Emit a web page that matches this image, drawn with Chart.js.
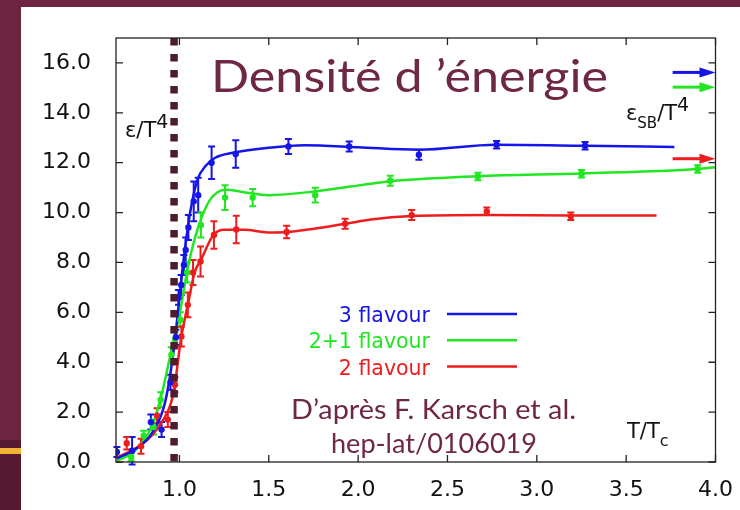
<!DOCTYPE html>
<html>
<head>
<meta charset="utf-8">
<script src="https://cdn.jsdelivr.net/npm/chart.js@4.4.1/dist/chart.umd.min.js"></script>
<style>
  html, body { margin: 0; padding: 0; }
  body { width: 740px; height: 510px; overflow: hidden; background: #6d2441; position: relative; }
  .low { position: absolute; left: 0; top: 440px; width: 21px; height: 70px; background: #55192f; }
  .gold { position: absolute; left: 0; top: 448px; width: 21px; height: 6px; background: #f2b233; }
  .panel { position: absolute; left: 21px; top: 7px; right: 0; bottom: 0; background: #fff; }
  canvas { position: absolute; left: 0; top: 0; }
</style>
</head>
<body>
<div class="low"></div><div class="gold"></div><div class="panel"></div>
<canvas id="energy" width="740" height="510"></canvas>
<script>
const xTicks = [1.0, 1.5, 2.0, 2.5, 3.0, 3.5, 4.0];
const yTicks = [0, 2, 4, 6, 8, 10, 12, 14, 16];
const labels = ["3 flavour", "2+1 flavour", "2 flavour"];
const colors = ["#1515e8", "#22e622", "#ee1d1d"];

// lattice data: T/Tc, eps/T^4, error
const x3 = [0.65, 0.735, 0.84, 0.90, 0.95, 0.98, 0.995, 1.01, 1.025, 1.035, 1.05, 1.08, 1.105, 1.18, 1.315, 1.61, 1.95, 2.34, 2.775, 3.27];
const y3 = [0.4, 0.45, 1.6, 1.3, 3.2, 5.0, 6.6, 7.1, 7.9, 8.5, 9.4, 10.45, 10.7, 12.0, 12.35, 12.65, 12.65, 12.32, 12.72, 12.68];
const e3 = [0.2, 0.55, 0.3, 0.3, 0.3, 0.3, 0.3, 0.4, 0.4, 0.5, 0.5, 0.8, 0.7, 0.65, 0.55, 0.3, 0.2, 0.2, 0.15, 0.15];

const x21 = [0.73, 0.80, 0.855, 0.895, 0.955, 0.975, 1.005, 1.043, 1.12, 1.255, 1.41, 1.76, 2.18, 2.67, 3.25, 3.9];
const y21 = [0.2, 1.05, 1.4, 2.5, 4.3, 4.9, 5.7, 7.6, 9.5, 10.6, 10.6, 10.7, 11.28, 11.45, 11.56, 11.75];
const e21 = [0.15, 0.2, 0.3, 0.3, 0.3, 0.3, 0.3, 0.4, 0.5, 0.5, 0.35, 0.3, 0.2, 0.15, 0.15, 0.15];

const x2 = [0.705, 0.785, 0.875, 0.935, 0.975, 1.011, 1.047, 1.076, 1.118, 1.193, 1.318, 1.60, 1.927, 2.30, 2.72, 3.19];
const y2 = [0.75, 0.63, 1.86, 1.7, 3.1, 5.03, 6.3, 7.6, 8.04, 9.1, 9.32, 9.22, 9.55, 9.9, 10.05, 9.85];
const e2 = [0.25, 0.3, 0.3, 0.3, 0.3, 0.4, 0.5, 0.5, 0.6, 0.55, 0.55, 0.25, 0.2, 0.2, 0.15, 0.15];

// fitted curves
const cx3 = [0.65, 0.75, 0.85, 0.92, 0.97, 1.0, 1.03, 1.06, 1.10, 1.15, 1.20, 1.30, 1.50, 1.70, 2.00, 2.34, 2.77, 3.27, 3.77];
const cy3 = [0.15, 0.5, 1.2, 2.4, 4.6, 6.6, 8.5, 10.0, 11.3, 11.9, 12.2, 12.4, 12.6, 12.7, 12.62, 12.52, 12.72, 12.68, 12.63];
const cx21 = [0.65, 0.75, 0.85, 0.90, 0.95, 1.0, 1.05, 1.10, 1.17, 1.26, 1.36, 1.50, 1.76, 2.07, 2.18, 2.67, 3.25, 3.9, 4.0];
const cy21 = [0.05, 0.45, 1.5, 2.7, 4.3, 5.9, 7.9, 9.3, 10.5, 10.92, 10.82, 10.7, 10.85, 11.16, 11.26, 11.46, 11.57, 11.75, 11.82];
const cx2 = [0.646, 0.70, 0.785, 0.85, 0.91, 0.95, 0.97, 1.01, 1.05, 1.085, 1.12, 1.19, 1.25, 1.36, 1.51, 1.60, 1.93, 2.07, 2.30, 2.72, 3.19, 3.67];
const cy2 = [0.17, 0.35, 0.69, 1.1, 1.7, 2.3, 2.9, 5.0, 6.4, 7.6, 8.1, 9.1, 9.31, 9.31, 9.2, 9.22, 9.55, 9.72, 9.86, 9.9, 9.88, 9.88];

// Stefan-Boltzmann limits (3, 2+1, 2 flavour)
const sbLimits = [15.62, 15.03, 12.16];
const sbFrom = 3.76;
const tc = 0.97;

const pts = (xs, ys) => xs.map((x, i) => ({ x: x, y: ys[i] }));
const series = [[x3, y3, e3], [x21, y21, e21], [x2, y2, e2]];
const curves = [[cx3, cy3], [cx21, cy21], [cx2, cy2]];
const FONT = "'DejaVu Sans', sans-serif";

function rich(ctx, parts, x, y) {
  parts.forEach((p) => {
    ctx.font = p.size + "px " + FONT;
    ctx.fillText(p.t, x, y + (p.dy || 0));
    x += ctx.measureText(p.t).width;
  });
}

function fitText(ctx, text, x, y, width, font) {
  ctx.font = font;
  const w = ctx.measureText(text).width;
  ctx.save();
  ctx.translate(x, y);
  ctx.scale(width / w, 1);
  ctx.fillText(text, 0, 0);
  ctx.restore();
}

const errorBars = {
  id: "errorBars",
  beforeDatasetsDraw(chart) {
    const { ctx, scales: { x, y } } = chart;
    ctx.save();
    ctx.lineWidth = 2;
    series.forEach((s, k) => {
      ctx.strokeStyle = colors[k];
      s[0].forEach((v, i) => {
        const px = x.getPixelForValue(v);
        const lo = y.getPixelForValue(s[1][i] - s[2][i]);
        const hi = y.getPixelForValue(s[1][i] + s[2][i]);
        ctx.beginPath();
        ctx.moveTo(px, lo); ctx.lineTo(px, hi);
        ctx.moveTo(px - 3.5, lo); ctx.lineTo(px + 3.5, lo);
        ctx.moveTo(px - 3.5, hi); ctx.lineTo(px + 3.5, hi);
        ctx.stroke();
      });
    });
    // y label sits under the Tc line
    ctx.fillStyle = "#111";
    ctx.textBaseline = "alphabetic";
    rich(ctx, [{ t: "\u03b5/T", size: 21 }, { t: "4", size: 19, dy: -9 }], 125, 137);
    ctx.restore();
  }
};

const decor = {
  id: "decor",
  afterDatasetsDraw(chart) {
    const { ctx, chartArea: a, scales: { x, y } } = chart;
    ctx.save();
    // frame and inward ticks
    ctx.strokeStyle = "#222";
    ctx.lineWidth = 1.3;
    ctx.strokeRect(a.left, a.top, a.right - a.left, a.bottom - a.top);
    ctx.beginPath();
    xTicks.forEach((v) => {
      const px = x.getPixelForValue(v);
      ctx.moveTo(px, a.bottom); ctx.lineTo(px, a.bottom - 7);
      ctx.moveTo(px, a.top); ctx.lineTo(px, a.top + 7);
    });
    yTicks.forEach((v) => {
      const py = y.getPixelForValue(v);
      ctx.moveTo(a.left, py); ctx.lineTo(a.left + 7, py);
      ctx.moveTo(a.right, py); ctx.lineTo(a.right - 7, py);
    });
    ctx.stroke();

    // Stefan-Boltzmann arrows
    ctx.lineWidth = 3;
    sbLimits.forEach((v, k) => {
      const py = y.getPixelForValue(v);
      const x0 = x.getPixelForValue(sbFrom);
      const x1 = a.right;
      ctx.strokeStyle = colors[k];
      ctx.fillStyle = colors[k];
      ctx.beginPath();
      ctx.moveTo(x0, py); ctx.lineTo(x1 - 12, py);
      ctx.stroke();
      ctx.beginPath();
      ctx.moveTo(x1, py); ctx.lineTo(x1 - 16, py - 5); ctx.lineTo(x1 - 16, py + 5);
      ctx.closePath();
      ctx.fill();
    });

    // legend
    ctx.textBaseline = "alphabetic";
    ctx.font = "20.5px " + FONT;
    labels.forEach((t, k) => {
      const ly = 314 + k * 26.3;
      ctx.fillStyle = colors[k];
      ctx.textAlign = "right";
      ctx.fillText(t, 430, ly + 8);
      ctx.strokeStyle = colors[k];
      ctx.lineWidth = 2.5;
      ctx.beginPath();
      ctx.moveTo(447, ly); ctx.lineTo(517, ly);
      ctx.stroke();
    });
    ctx.textAlign = "left";

    // axis annotations
    ctx.fillStyle = "#111";
    rich(ctx, [{ t: "\u03b5", size: 21 }, { t: "SB", size: 15, dy: 8 }, { t: "/T", size: 21 }, { t: "4", size: 19, dy: -9 }], 626, 120);
    rich(ctx, [{ t: "T/T", size: 21 }, { t: "c", size: 16, dy: 8 }], 627, 438);

    // slide title and reference
    ctx.fillStyle = "#6e2745";
    fitText(ctx, "Densit\u00e9 d \u2019\u00e9nergie", 211, 92, 397, "44px 'Comic Sans MS', Lato, sans-serif");
    fitText(ctx, "D\u2019apr\u00e8s F. Karsch et al.", 291, 419, 285, "27px 'Comic Sans MS', Lato, sans-serif");
    fitText(ctx, "hep-lat/0106019", 331, 453, 206, "27px 'Comic Sans MS', Lato, sans-serif");
    ctx.restore();
  }
};

const datasets = [
  {
    label: "Tc",
    data: [{ x: tc, y: 17 }, { x: tc, y: 0 }],
    showLine: true,
    borderColor: "#4e1c2f",
    borderWidth: 7.5,
    borderDash: [7.5, 8.5],
    pointRadius: 0,
    order: 0
  }
];
curves.forEach((c, k) => {
  datasets.push({
    label: labels[k] + " fit",
    data: pts(c[0], c[1]),
    showLine: true,
    borderColor: colors[k],
    borderWidth: 2.5,
    cubicInterpolationMode: "monotone",
    pointRadius: 0,
    order: 2
  });
});
series.forEach((s, k) => {
  datasets.push({
    label: labels[k],
    data: pts(s[0], s[1]),
    showLine: false,
    backgroundColor: colors[k],
    borderWidth: 0,
    pointRadius: 3.2,
    order: 1
  });
});

new Chart(document.getElementById("energy"), {
  type: "scatter",
  data: { datasets: datasets },
  options: {
    responsive: false,
    animation: false,
    devicePixelRatio: 1,
    layout: { padding: { top: 38, right: 24, left: 0, bottom: 0 } },
    plugins: { legend: { display: false }, tooltip: { enabled: false } },
    scales: {
      x: {
        type: "linear",
        min: 0.645,
        max: 4.0,
        grid: { display: false },
        border: { display: false },
        afterBuildTicks: (s) => { s.ticks = xTicks.map((v) => ({ value: v })); },
        afterFit: (s) => { s.height = 48; },
        ticks: {
          padding: 7,
          color: "#111",
          font: { family: "DejaVu Sans", size: 22 },
          maxRotation: 0,
          callback: (v) => Number(v).toFixed(1)
        }
      },
      y: {
        type: "linear",
        min: 0,
        max: 17,
        grid: { display: false },
        border: { display: false },
        afterBuildTicks: (s) => { s.ticks = yTicks.map((v) => ({ value: v })); },
        afterFit: (s) => { s.width = 116; },
        ticks: {
          padding: 17,
          color: "#111",
          font: { family: "DejaVu Sans", size: 22 },
          callback: (v) => Number(v).toFixed(1)
        }
      }
    }
  },
  plugins: [errorBars, decor]
});
</script>
</body>
</html>
